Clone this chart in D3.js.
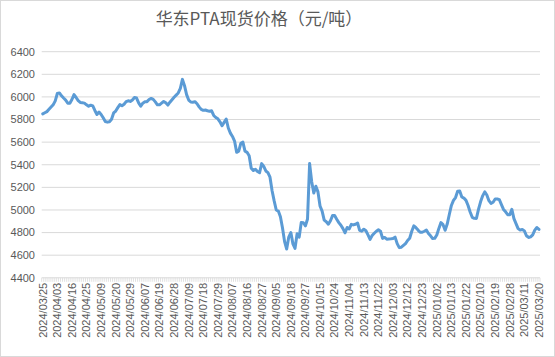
<!DOCTYPE html>
<html><head><meta charset="utf-8">
<script src="https://cdn.jsdelivr.net/npm/d3@7"></script>
<style>body{margin:0;background:#fff;}svg{display:block;}</style>
</head><body>
<svg id="chart" width="555" height="357"></svg>
<script>
const title = "华东PTA现货价格（元/吨）";
const yTicks = [4400,4600,4800,5000,5200,5400,5600,5800,6000,6200,6400];
const xTickLabels = ["2024/03/25","2024/04/03","2024/04/16","2024/04/25","2024/05/09","2024/05/20","2024/05/29","2024/06/07","2024/06/19","2024/06/28","2024/07/09","2024/07/18","2024/07/29","2024/08/07","2024/08/16","2024/08/27","2024/09/05","2024/09/18","2024/09/27","2024/10/15","2024/10/24","2024/11/04","2024/11/13","2024/11/22","2024/12/03","2024/12/12","2024/12/23","2025/01/02","2025/01/13","2025/01/22","2025/02/10","2025/02/19","2025/02/28","2025/03/11","2025/03/20"];
const labelEvery = 7;
const prices = [
5850,5860,5870,5890,5910,5930,5965,6030,6035,6010,
5990,5972,5945,5945,5977,6020,5995,5967,5951,5948,
5945,5930,5917,5927,5920,5880,5845,5866,5845,5815,
5782,5777,5780,5802,5858,5875,5905,5932,5922,5935,
5958,5966,5960,5973,5995,5990,5947,5918,5945,5957,
5958,5977,5987,5978,5956,5930,5930,5945,5960,5948,
5928,5953,5975,5997,6016,6035,6075,6155,6100,6020,
5972,5955,5953,5958,5940,5912,5890,5881,5884,5878,
5873,5877,5836,5818,5806,5780,5745,5775,5805,5725,
5680,5650,5610,5510,5520,5590,5600,5520,5510,5480,
5370,5350,5360,5340,5330,5410,5385,5345,5330,5290,
5170,5080,5000,4990,4940,4840,4720,4655,4760,4800,
4700,4660,4790,4760,4890,4887,4860,4920,5410,5250,
5150,5210,5160,5035,4990,4910,4896,4874,4905,4950,
4950,4918,4888,4865,4835,4798,4845,4832,4873,4868,
4874,4885,4820,4813,4830,4816,4780,4740,4774,4794,
4812,4824,4812,4749,4757,4742,4744,4745,4747,4760,
4702,4667,4671,4687,4703,4730,4750,4812,4860,4843,
4822,4803,4803,4812,4822,4791,4771,4748,4749,4779,
4837,4888,4870,4820,4875,4960,5040,5085,5110,5165,
5167,5115,5105,5085,5040,4982,4935,4926,4925,5005,
5072,5125,5160,5132,5082,5058,5068,5097,5097,5091,
5048,5005,4984,4958,4957,5005,4924,4879,4835,4822,
4828,4815,4772,4757,4762,4780,4822,4845,4828
];

const svg = d3.select("#chart");
const W = 555, H = 357;
const plot = {left: 41.7, right: 540, top: 51.7, bottom: 277.8};

svg.append("rect").attr("x",0.5).attr("y",0.5).attr("width",W-1).attr("height",H-1)
  .attr("fill","#fff").attr("stroke","#d9d9d9");

svg.append("text").attr("x",259).attr("y",25)
  .attr("text-anchor","middle").attr("font-family","'Noto Sans CJK SC', sans-serif")
  .attr("font-size",17).attr("fill","#595959").text(title);

const x = d3.scaleBand().domain(d3.range(prices.length)).range([plot.left, plot.right]).padding(0);
const y = d3.scaleLinear().domain([4400,6400]).range([plot.bottom, plot.top]);

svg.append("g").selectAll("line").data(yTicks).join("line")
  .attr("x1",plot.left).attr("x2",plot.right)
  .attr("y1",d=>y(d)).attr("y2",d=>y(d))
  .attr("stroke","#d9d9d9").attr("stroke-width",1);

svg.append("g").selectAll("text").data(yTicks).join("text")
  .attr("x",35).attr("y",d=>y(d)).attr("dy","0.35em")
  .attr("text-anchor","end").attr("font-family","'Liberation Sans', Arial, sans-serif")
  .attr("font-size",11).attr("fill","#595959").text(d=>d);

const bounds = d3.range(prices.length+1).map(i => i < prices.length ? x(i) : plot.right);
svg.append("g").selectAll("line").data(bounds).join("line")
  .attr("x1",d=>d).attr("x2",d=>d).attr("y1",plot.bottom).attr("y2",plot.bottom+4)
  .attr("stroke","#d9d9d9").attr("stroke-width",0.8);

const labelIdx = xTickLabels.map((_,k)=>k*labelEvery);
svg.append("g").selectAll("text").data(labelIdx).join("text")
  .attr("transform",(d)=>`translate(${x(d)+x.bandwidth()/2},${plot.bottom+5}) rotate(-90)`)
  .attr("dy","0.35em").attr("text-anchor","end")
  .attr("font-family","'Liberation Sans', Arial, sans-serif").attr("font-size",11)
  .attr("fill","#595959").text((d,k)=>xTickLabels[k]);

const line = d3.line().x((d,i)=>x(i)+x.bandwidth()/2).y(d=>y(d));
svg.append("path").datum(prices).attr("d",line)
  .attr("fill","none").attr("stroke","#5b9bd5").attr("stroke-width",3)
  .attr("stroke-linejoin","round").attr("stroke-linecap","round");
</script>
</body></html>
